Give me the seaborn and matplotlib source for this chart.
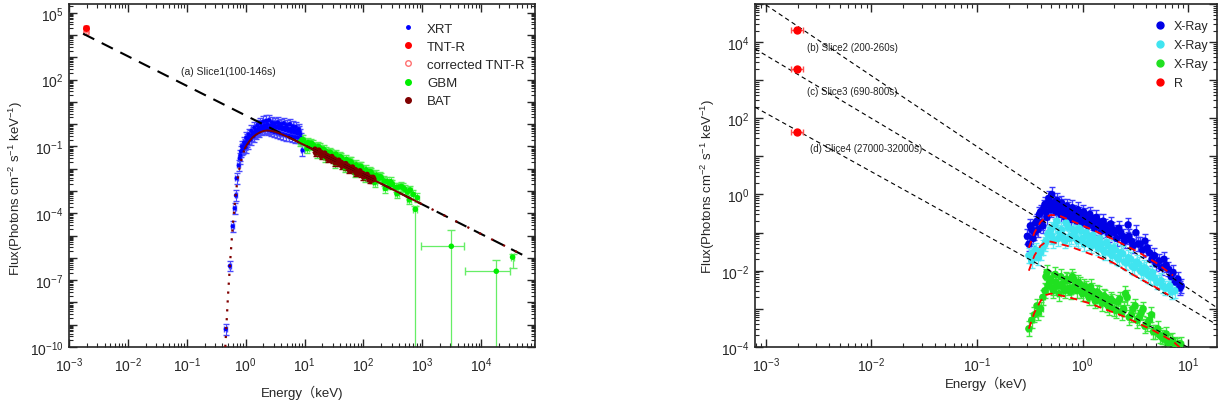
import numpy as np
import matplotlib
matplotlib.use('Agg')
import matplotlib.pyplot as plt
from matplotlib.lines import Line2D
from matplotlib.ticker import LogLocator, FixedLocator, FuncFormatter, NullFormatter
import seaborn as sns

sns.set_style('ticks')
plt.rcParams['font.family'] = ['Liberation Sans', 'Noto Sans CJK SC', 'DejaVu Sans']
plt.rcParams['mathtext.fontset'] = 'custom'
plt.rcParams['mathtext.rm'] = 'Liberation Sans'
plt.rcParams['mathtext.it'] = 'Liberation Sans:italic'
plt.rcParams['mathtext.default'] = 'regular'

# ---------------- (a) Slice1 data ----------------
xrt_E = [0.458, 0.536, 0.60, 0.65, 0.68, 0.70, 0.76, 0.79, 0.83, 0.86, 0.90, 0.94, 0.98,
         1.02, 1.07, 1.12, 1.18, 1.25, 1.32, 1.40, 1.48, 1.57, 1.66, 1.76, 1.86, 1.97,
         2.09, 2.21, 2.34, 2.48, 2.63, 2.79, 2.95, 3.13, 3.32, 3.52, 3.73, 3.95, 4.19,
         4.44, 4.70, 4.98, 5.28, 5.60, 5.93, 6.29, 6.66, 7.06, 7.48, 7.93, 8.41, 9.2]
xrt_F = [6.3e-10, 4.3e-7, 2.6e-5, 1.66e-4, 6.3e-4, 3.7e-3, 0.014, 0.029, 0.06, 0.1, 0.08,
         0.15, 0.12, 0.25, 0.2, 0.35, 0.3, 0.5, 0.42, 0.7, 0.55, 0.9, 0.7, 1.1, 0.8, 1.3,
         0.9, 1.4, 1.0, 1.5, 0.85, 1.2, 0.75, 1.1, 0.7, 1.2, 0.65, 1.0, 0.6, 1.1, 0.55, 0.9,
         0.5, 1.0, 0.45, 0.8, 0.42, 0.75, 0.38, 0.6, 0.35, 0.066]
xrt2_E = [0.81, 0.88, 0.92, 1.0, 1.05, 1.1, 1.15, 1.21, 1.28, 1.36, 1.44, 1.52, 1.61, 1.71,
          1.81, 1.92, 2.03, 2.15, 2.27, 2.41, 2.55, 2.71, 2.87, 3.04, 3.22, 3.42, 3.62,
          3.84, 4.07, 4.31, 4.57, 4.84, 5.13, 5.44, 5.76, 6.1, 6.47, 6.86, 7.27, 7.7, 8.16,
          8.65]
xrt2_F = [0.04, 0.07, 0.1, 0.09, 0.16, 0.14, 0.22, 0.2, 0.3, 0.28, 0.4, 0.38, 0.5, 0.45,
          0.6, 0.55, 0.65, 0.6, 0.7, 0.55, 0.65, 0.5, 0.9, 0.45, 0.8, 0.42, 0.85, 0.38,
          0.75, 0.35, 0.7, 0.32, 0.65, 0.3, 0.6, 0.28, 0.55, 0.26, 0.5, 0.25, 0.45, 0.24]

gbm_E = [8.5, 9.5, 10.5, 11.5, 12.5, 14, 15.5, 17, 19, 21, 23, 25, 28, 31, 34, 38, 42, 46,
         51, 56, 62, 68, 75, 83, 92, 100, 110, 122, 135, 150, 165, 180, 200, 225, 250, 280,
         310, 350, 390, 440, 500, 560, 620, 700, 820]
gbm_F = [0.16, 0.2, 0.13, 0.15, 0.11, 0.12, 0.085, 0.1, 0.065, 0.075, 0.06, 0.045, 0.05,
         0.04, 0.045, 0.028, 0.032, 0.022, 0.026, 0.018, 0.02, 0.014, 0.015, 0.011, 0.012,
         0.008, 0.009, 0.0065, 0.007, 0.005, 0.0052, 0.0036, 0.004, 0.0028, 0.0027, 0.0019,
         0.002, 0.0014, 0.0015, 0.0016, 0.0012, 9e-4, 1.1e-3, 7e-4, 5e-4]
gbm2_E = [9, 11, 13, 16, 18, 22, 27, 33, 40, 48, 58, 72, 88, 105, 128, 155, 190, 235, 290,
          370, 470, 600]
gbm2_F = [0.2, 0.08, 0.14, 0.05, 0.09, 0.032, 0.055, 0.018, 0.035, 0.011, 0.022, 0.0065,
          0.013, 0.004, 0.0075, 0.0024, 0.0045, 0.0013, 0.0026, 7.5e-4, 1.4e-3, 4e-4]

# GBM high-energy points with asymmetric errors
gbm_out_E = [760, 3100, 1.8e4, 3.4e4]
gbm_out_F = [1.5e-4, 3.3e-6, 2.5e-7, 1.07e-6]
gbm_out_Elo = [700, 960, 5400, 3.2e4]
gbm_out_Ehi = [820, 5100, 3.1e4, 3.6e4]
gbm_out_Flo = [1e-11, 1e-11, 1e-11, 3.4e-7]
gbm_out_Fhi = [2.2e-4, 1.7e-5, 7.9e-7, 1.5e-6]

bat_E = [15, 16, 17, 18, 19, 20, 21.5, 23, 24.5, 26, 28, 30, 32, 34, 36.5, 39, 42, 45, 48,
         51, 55, 59, 63, 68, 73, 78, 84, 90, 97, 105, 113, 122, 132, 142, 150]
bat_F = [0.075, 0.058, 0.062, 0.049, 0.054, 0.043, 0.046, 0.035, 0.038, 0.030, 0.032, 0.025,
         0.027, 0.021, 0.023, 0.0175, 0.019, 0.0145, 0.0158, 0.0122, 0.0131, 0.0101, 0.011,
         0.0083, 0.009, 0.0069, 0.0074, 0.0057, 0.0061, 0.0046, 0.005, 0.0038, 0.0041,
         0.0031, 0.0034]
bat2_E = [15.5, 17.5, 19.5, 22, 25, 29, 33, 38, 43, 50, 57, 65, 75, 87, 100, 115, 130, 145]
bat2_F = [0.05, 0.068, 0.037, 0.05, 0.027, 0.035, 0.0185, 0.024, 0.013, 0.0168, 0.009,
          0.0118, 0.0063, 0.008, 0.0043, 0.0055, 0.003, 0.0041]

tnt_E = 1.94e-3
tnt_F = 2.1e4
tnt_corr_F = 1.4e4

# model curves for slice1
pl_E = [1.73e-3, 5.7e4]
pl_F = [1.15e4, 1.15e-6]
abs_lo_E = [0.45, 0.5, 0.55, 0.6, 0.65, 0.7, 0.75, 0.8, 0.9, 0.96]
abs_lo_F = [1e-10, 2e-8, 1e-6, 2.5e-5, 2.5e-4, 1.5e-3, 5.5e-3, 0.015, 0.045, 0.08]
abs_E = [0.96, 1.05, 1.15, 1.3, 1.5, 1.75, 2.0, 2.3, 2.7, 3.2, 4.0, 5.0, 6.5, 8.0, 10, 20,
         50, 100, 300, 900]
abs_F = [0.08, 0.12, 0.17, 0.25, 0.34, 0.43, 0.49, 0.52, 0.5, 0.45, 0.36, 0.28, 0.2, 0.15,
         0.114, 0.0453, 0.0134, 5.3e-3, 1.24e-3, 2.87e-4]
abs_hi_E = [900, 5.0e4]
abs_hi_F = [2.87e-4, 1.37e-6]

# ---------------- (b)-(d) Slices 2-4 ----------------
r_E = 1.97e-3
r_Elo = 1.73e-3
r_Ehi = 2.24e-3
r_F = [2.07e4, 1.95e3, 43]

line_b_E = [1e-3, 18.8]
line_b_F = [9.4e4, 1.07e-3]
line_c_E = [7.9e-4, 18.8]
line_c_F = [6.6e3, 3.8e-4]
line_d_E = [7.9e-4, 18.8]
line_d_F = [195, 3.7e-5]

blue_E = [0.30, 0.31, 0.33, 0.35, 0.37, 0.39, 0.41, 0.43, 0.45, 0.47, 0.49, 0.51, 0.54,
          0.57, 0.60, 0.63, 0.67, 0.71, 0.75, 0.80, 0.85, 0.90, 0.96, 1.02, 1.09, 1.17,
          1.25, 1.35, 1.45, 1.57, 1.70, 1.85, 2.0, 2.2, 2.4, 2.7, 2.9, 3.2, 3.5, 3.9, 4.3,
          4.8, 5.3, 5.9, 6.5, 7.2, 8.0, 8.6]
blue_F = [0.08, 0.05, 0.12, 0.1, 0.2, 0.3, 0.18, 0.45, 0.35, 0.6, 0.5, 1.0, 0.45, 0.7, 0.4,
          0.6, 0.35, 0.5, 0.3, 0.45, 0.28, 0.4, 0.25, 0.35, 0.22, 0.3, 0.18, 0.25, 0.15, 0.2,
          0.12, 0.17, 0.1, 0.13, 0.08, 0.16, 0.06, 0.1, 0.05, 0.06, 0.03, 0.025, 0.018, 0.02,
          0.011, 0.009, 0.006, 0.004]
blue2_E = [0.32, 0.34, 0.36, 0.38, 0.40, 0.42, 0.44, 0.46, 0.48, 0.50, 0.53, 0.56, 0.59,
           0.62, 0.65, 0.69, 0.73, 0.78, 0.83, 0.88, 0.93, 0.99, 1.06, 1.13, 1.21, 1.30,
           1.40, 1.51, 1.63, 1.77, 1.92, 2.1, 2.3, 2.5, 2.75, 3.0, 3.35, 3.7, 4.1, 4.55,
           5.0, 5.6, 6.2, 6.9, 7.6, 8.3]
blue2_F = [0.15, 0.07, 0.18, 0.12, 0.35, 0.15, 0.55, 0.25, 0.8, 0.4, 0.6, 0.35, 0.55, 0.3,
           0.5, 0.25, 0.4, 0.22, 0.35, 0.2, 0.3, 0.18, 0.28, 0.15, 0.25, 0.13, 0.2, 0.11,
           0.15, 0.09, 0.12, 0.07, 0.1, 0.06, 0.08, 0.045, 0.05, 0.035, 0.04, 0.02, 0.015,
           0.012, 0.014, 0.007, 0.005, 0.0035]
cyan_E = [0.31, 0.34, 0.38, 0.42, 0.45, 0.48, 0.51, 0.55, 0.59, 0.63, 0.68, 0.73, 0.78,
          0.84, 0.90, 0.97, 1.04, 1.12, 1.2, 1.3, 1.4, 1.5, 1.62, 1.75, 1.9, 2.05, 2.2, 2.4,
          2.6, 2.85, 3.1, 3.4, 3.7, 4.0, 4.4, 4.8, 5.3, 5.8, 6.4, 7.0, 7.5]
cyan_F = [0.025, 0.03, 0.022, 0.04, 0.06, 0.1, 0.08, 0.15, 0.07, 0.12, 0.06, 0.14, 0.08, 0.1,
          0.06, 0.11, 0.05, 0.08, 0.045, 0.065, 0.04, 0.05, 0.03, 0.045, 0.025, 0.035, 0.02,
          0.028, 0.016, 0.02, 0.012, 0.015, 0.009, 0.011, 0.007, 0.0065, 0.005, 0.004,
          0.0035, 0.0028, 0.003]
cyan2_E = [0.33, 0.36, 0.40, 0.44, 0.47, 0.50, 0.53, 0.57, 0.61, 0.65, 0.70, 0.75, 0.81,
           0.87, 0.93, 1.0, 1.08, 1.16, 1.25, 1.35, 1.45, 1.56, 1.68, 1.82, 1.97, 2.13, 2.3,
           2.5, 2.72, 2.95, 3.25, 3.55, 3.85, 4.2, 4.6, 5.05, 5.55, 6.1, 6.7]
cyan2_F = [0.018, 0.035, 0.03, 0.05, 0.09, 0.12, 0.06, 0.2, 0.1, 0.08, 0.18, 0.07, 0.12,
           0.07, 0.13, 0.07, 0.1, 0.055, 0.085, 0.05, 0.07, 0.035, 0.055, 0.03, 0.04, 0.022,
           0.03, 0.017, 0.022, 0.013, 0.017, 0.01, 0.012, 0.0075, 0.009, 0.005, 0.0055,
           0.0035, 0.004]
green_E = [0.31, 0.35, 0.38, 0.42, 0.45, 0.47, 0.50, 0.53, 0.56, 0.60, 0.64, 0.68, 0.72,
           0.77, 0.82, 0.88, 0.94, 1.0, 1.07, 1.15, 1.23, 1.32, 1.42, 1.53, 1.65, 1.78, 1.92,
           2.07, 2.25, 2.45, 2.65, 2.9, 3.15, 3.45, 3.75, 4.1, 4.5, 4.9, 5.4, 5.9, 6.5, 7.1,
           7.8, 8.5]
green_F = [3e-4, 7e-4, 8e-4, 2e-3, 7e-3, 4e-3, 6e-3, 3e-3, 5e-3, 2.5e-3, 4.5e-3, 3e-3,
           5.5e-3, 2.8e-3, 6e-3, 3e-3, 4.5e-3, 2.5e-3, 3.5e-3, 2e-3, 3e-3, 1.6e-3, 2.5e-3,
           1.4e-3, 2e-3, 1.1e-3, 1.6e-3, 9e-4, 1.8e-3, 1e-3, 2e-3, 7e-4, 1.2e-3, 6e-4, 1e-3,
           4e-4, 7e-4, 2.5e-4, 2e-4, 1.6e-4, 1.3e-4, 1.5e-4, 1.1e-4, 1.2e-4]
green2_E = [0.33, 0.37, 0.40, 0.44, 0.46, 0.49, 0.52, 0.55, 0.58, 0.62, 0.66, 0.70, 0.75,
            0.80, 0.85, 0.91, 0.97, 1.04, 1.11, 1.19, 1.28, 1.37, 1.47, 1.59, 1.71, 1.85,
            2.0, 2.16, 2.35, 2.55, 2.77, 3.0, 3.3, 3.6, 3.9, 4.3, 4.7, 5.15, 5.65, 6.2, 6.8,
            7.5, 8.2]
green2_F = [5e-4, 1.2e-3, 1.0e-3, 3e-3, 9e-3, 5e-3, 3.5e-3, 8e-3, 4e-3, 7e-3, 3.5e-3, 6e-3,
            3.5e-3, 7e-3, 4e-3, 5e-3, 3e-3, 4e-3, 2.5e-3, 3.8e-3, 2e-3, 2.8e-3, 1.7e-3,
            2.2e-3, 1.3e-3, 1.8e-3, 1.0e-3, 1.5e-3, 8e-4, 2.5e-3, 6e-4, 1.0e-3, 5e-4, 8e-4,
            3.5e-4, 5e-4, 2.5e-4, 3e-4, 1.8e-4, 2.2e-4, 1.4e-4, 1.2e-4, 1.0e-4]

blue_mod_E = [0.31, 0.35, 0.4, 0.45, 0.5, 0.6, 0.8, 1.15, 2.0, 3.3, 5, 7.2]
blue_mod_F = [0.04, 0.1, 0.19, 0.26, 0.29, 0.28, 0.2, 0.13, 0.065, 0.032, 0.016, 0.0075]
cyan_mod_E = [0.31, 0.35, 0.4, 0.45, 0.5, 0.76, 1.25, 1.96, 3.25, 5.4, 6.5]
cyan_mod_F = [0.01, 0.025, 0.045, 0.057, 0.058, 0.043, 0.026, 0.016, 0.0069, 0.0032, 0.0023]
green_mod_E = [0.31, 0.35, 0.4, 0.45, 0.5, 0.6, 0.8, 1.16, 2.4, 4.7, 7.2, 9.0]
green_mod_F = [3e-4, 8e-4, 1.6e-3, 2.3e-3, 2.5e-3, 2.3e-3, 1.9e-3, 1.4e-3, 6.5e-4, 2.7e-4,
               1.4e-4, 8e-5]

# labelled decades on each axis
x1_decades = [-3, -2, -1, 0, 1, 2, 3, 4]
y1_decades = list(range(-10, 6))
x2_decades = [-3, -2, -1, 0, 1]
y2_decades = list(range(-4, 6))

# relative error sizes (estimated from the bars)
XRT_YERR, XRT_XERR = 0.75, 0.05
GBM_YERR, GBM_XERR = 0.6, 0.08
BAT_YERR, BAT_XERR = 0.35, 0.05
XR_YERR, XR_XERR = 0.55, 0.05


def err_points(ax, E, F, yrel, xrel, color, ecolor, size, capsize=1.5, elw=0.8):
    E = np.asarray(E, dtype=float)
    F = np.asarray(F, dtype=float)
    ax.errorbar(E, F, xerr=[E - E / (1 + xrel), E * xrel],
                yerr=[F - F / (1 + yrel), F * yrel],
                fmt='none', ecolor=ecolor, elinewidth=elw, capsize=capsize, zorder=2)
    sns.scatterplot(x=E, y=F, ax=ax, color=color, s=size, edgecolor='none',
                    zorder=3, legend=False)


def style_log_axes(ax, xdec, ydec, every, offset):
    ax.set_xscale('log')
    ax.set_yscale('log')
    ax.xaxis.set_major_locator(FixedLocator([10.0 ** d for d in xdec]))
    ax.yaxis.set_major_locator(FixedLocator([10.0 ** d for d in ydec]))
    for axis in (ax.xaxis, ax.yaxis):
        axis.set_minor_locator(LogLocator(base=10, subs=np.arange(2, 10), numticks=40))
        axis.set_minor_formatter(NullFormatter())
    ax.xaxis.set_major_formatter(FuncFormatter(lambda v, p: r'$10^{%d}$' % round(np.log10(v))))
    ax.yaxis.set_major_formatter(FuncFormatter(
        lambda v, p: r'$10^{%d}$' % round(np.log10(v)) if round(np.log10(v)) % every == offset else ''))
    ax.tick_params(which='both', direction='in', top=True, right=True, labelsize=10)
    ax.tick_params(axis='x', which='major', pad=6)
    ax.tick_params(axis='y', which='major', pad=4)
    ax.tick_params(which='major', length=6, width=1.0)
    ax.tick_params(which='minor', length=3, width=0.8)
    for sp in ax.spines.values():
        sp.set_linewidth(1.2)


fig = plt.figure(figsize=(12.18, 4.06), dpi=100)
ax1 = fig.add_axes([0.0567, 0.143, 0.3826, 0.845])
ax2 = fig.add_axes([0.6199, 0.143, 0.3793, 0.845])

style_log_axes(ax1, x1_decades, y1_decades, 3, 2)
style_log_axes(ax2, x2_decades, y2_decades, 2, 0)

# ---- panel (a) ----
err_points(ax1, xrt_E + xrt2_E, xrt_F + xrt2_F, XRT_YERR, XRT_XERR, '#0000ff', '#4a4aff', 9,
           capsize=2)
err_points(ax1, gbm_E + gbm2_E, gbm_F + gbm2_F, GBM_YERR, GBM_XERR, '#00ee00', '#55ee55', 16,
           capsize=2)
E = np.array(gbm_out_E)
F = np.array(gbm_out_F)
ax1.errorbar(E, F, xerr=[E - np.array(gbm_out_Elo), np.array(gbm_out_Ehi) - E],
             yerr=[F - np.array(gbm_out_Flo), np.array(gbm_out_Fhi) - F],
             fmt='none', ecolor='#66ee66', elinewidth=0.9, capsize=3, zorder=2)
sns.scatterplot(x=E, y=F, ax=ax1, color='#00ee00', s=16, edgecolor='none', zorder=3, legend=False)
err_points(ax1, bat_E + bat2_E, bat_F + bat2_F, BAT_YERR, BAT_XERR, '#800000', '#800000', 16,
           capsize=2)

ax1.errorbar([tnt_E], [tnt_corr_F], xerr=[[0.12e-3], [0.12e-3]], yerr=[[3e3], [4e3]],
             fmt='o', mfc='none', mec='#ff7070', ms=4, ecolor='#ff8080', capsize=2,
             elinewidth=0.8, zorder=3)
ax1.errorbar([tnt_E], [tnt_F], xerr=[[0.12e-3], [0.12e-3]], yerr=[[3e3], [4e3]],
             fmt='o', color='#ff0000', ms=4, ecolor='#ff6060', capsize=2,
             elinewidth=0.8, zorder=4)

sns.lineplot(x=pl_E, y=pl_F, ax=ax1, color='black', linestyle=(0, (6, 4)), linewidth=1.5,
             estimator=None, sort=False, zorder=4)
sns.lineplot(x=abs_lo_E, y=abs_lo_F, ax=ax1, color='#800000', linestyle=(0, (1, 3)),
             linewidth=1.6, estimator=None, sort=False, zorder=4)
sns.lineplot(x=abs_E, y=abs_F, ax=ax1, color='#7a0000', linewidth=1.4,
             estimator=None, sort=False, zorder=4)
sns.lineplot(x=abs_hi_E, y=abs_hi_F, ax=ax1, color='#800000', linestyle=(0, (1, 5)),
             linewidth=1.6, estimator=None, sort=False, zorder=4)

ax1.set_xlim(1e-3, 8.2e4)
ax1.set_ylim(1e-10, 2.5e5)
ax1.text(0.24, 0.805, '(a) Slice1(100-146s)', transform=ax1.transAxes, fontsize=7.5,
         va='center')
ax1.set_xlabel('Energy（keV)', fontsize=9.5)
ax1.xaxis.set_label_coords(0.5, -0.11)
ax1.set_ylabel('Flux(Photons cm$^{-2}$ s$^{-1}$ keV$^{-1}$)', fontsize=9.5)
ax1.yaxis.set_label_coords(-0.095, 0.465)

h1 = [Line2D([], [], ls='none', marker='o', color='#0000ff', ms=2.5),
      Line2D([], [], ls='none', marker='o', color='#ff0000', ms=4),
      Line2D([], [], ls='none', marker='o', mfc='none', mec='#ff7070', ms=4),
      Line2D([], [], ls='none', marker='o', color='#00ee00', ms=4),
      Line2D([], [], ls='none', marker='o', color='#800000', ms=4)]
ax1.legend(h1, ['XRT', 'TNT-R', 'corrected TNT-R', 'GBM', 'BAT'], loc='upper left',
           bbox_to_anchor=(0.70, 0.965), frameon=False, fontsize=9.5, handlelength=1.0,
           handletextpad=0.9, labelspacing=0.45, borderpad=0)

# ---- panel (b)-(d) ----
for lx, ly in [(line_b_E, line_b_F), (line_c_E, line_c_F), (line_d_E, line_d_F)]:
    sns.lineplot(x=lx, y=ly, ax=ax2, color='black', linestyle=(0, (4, 3)), linewidth=0.8,
                 estimator=None, sort=False, zorder=4)

err_points(ax2, blue_E + blue2_E, blue_F + blue2_F, XR_YERR, XR_XERR, '#0000e6', '#3a3aff',
           28, capsize=2.5, elw=1.0)
err_points(ax2, cyan_E + cyan2_E, cyan_F + cyan2_F, XR_YERR, XR_XERR, '#40e4f0', '#60eaf5',
           28, capsize=2.5, elw=1.0)
err_points(ax2, green_E + green2_E, green_F + green2_F, XR_YERR, XR_XERR, '#20e020', '#40e840',
           28, capsize=2.5, elw=1.0)

for mx, my in [(blue_mod_E, blue_mod_F), (cyan_mod_E, cyan_mod_F), (green_mod_E, green_mod_F)]:
    sns.lineplot(x=mx, y=my, ax=ax2, color='#ff0000', linestyle=(0, (4, 3)), linewidth=1.3,
                 estimator=None, sort=False, zorder=5)

ax2.errorbar([r_E] * 3, r_F, xerr=[[r_E - r_Elo] * 3, [r_Ehi - r_E] * 3],
             yerr=[[f * 0.1 for f in r_F], [f * 0.1 for f in r_F]],
             fmt='o', color='#ff0000', ms=5, ecolor='#ff5050', capsize=2.5,
             elinewidth=1.0, zorder=5)

ax2.set_xlim(7.9e-4, 18.8)
ax2.set_ylim(1e-4, 1e5)
ax2.text(0.1126, 0.875, '(b) Slice2 (200-260s)', transform=ax2.transAxes, fontsize=7, va='center')
ax2.text(0.1126, 0.746, '(c) Slice3 (690-800s)', transform=ax2.transAxes, fontsize=7, va='center')
ax2.text(0.119, 0.58, '(d) Slice4 (27000-32000s)', transform=ax2.transAxes, fontsize=7, va='center')
ax2.set_xlabel('Energy（keV)', fontsize=9.5)
ax2.xaxis.set_label_coords(0.5, -0.085)
ax2.set_ylabel('Flux(Photons cm$^{-2}$ s$^{-1}$ keV$^{-1}$)', fontsize=9.5)
ax2.yaxis.set_label_coords(-0.082, 0.47)

h2 = [Line2D([], [], ls='none', marker='o', color='#0000e6', ms=5),
      Line2D([], [], ls='none', marker='o', color='#40e4f0', ms=5),
      Line2D([], [], ls='none', marker='o', color='#20e020', ms=5),
      Line2D([], [], ls='none', marker='o', color='#ff0000', ms=5)]
ax2.legend(h2, ['X-Ray', 'X-Ray', 'X-Ray', 'R'], loc='upper left',
           bbox_to_anchor=(0.85, 0.97), frameon=False, fontsize=9, handlelength=1.0,
           handletextpad=0.6, labelspacing=0.55, borderpad=0)

fig.savefig('out.png', dpi=100)
